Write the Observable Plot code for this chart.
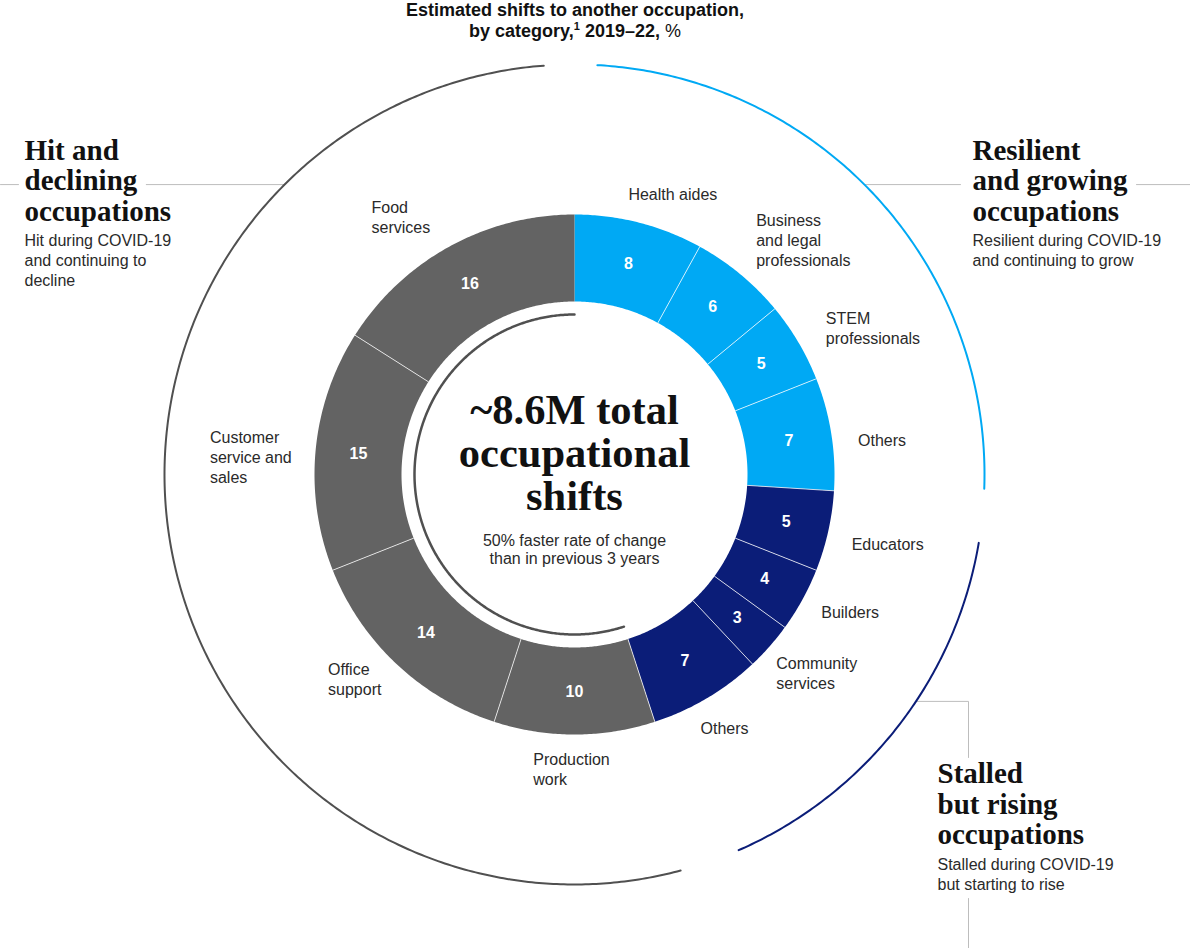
<!DOCTYPE html>
<html>
<head>
<meta charset="utf-8">
<script src="https://cdn.jsdelivr.net/npm/d3@7"></script>
<script src="https://cdn.jsdelivr.net/npm/@observablehq/plot@0.6"></script>
<style>
  html, body { margin: 0; padding: 0; background: #fff; }
  #title {
    font-family: "Liberation Sans", Arial, sans-serif;
    font-weight: bold; font-size: 18px; line-height: 21px;
    text-align: center; color: #111; width: 1150px; height: 42px;
  }
  #title sup { font-size: 11px; position: relative; top: -7px; vertical-align: baseline; line-height: 0; }
  #title .reg { font-weight: normal; }
  #chart svg { display: block; }
</style>
</head>
<body>
<div id="title">Estimated shifts to another occupation,<br>by category,<sup>1</sup> 2019–22, <span class="reg">%</span></div>
<div id="chart"></div>
<script>
// ---------------- DATA ----------------
const occupations = [
  "Health aides", "Business\nand legal\nprofessionals", "STEM\nprofessionals", "Others",
  "Educators", "Builders", "Community\nservices", "Others",
  "Production\nwork", "Office\nsupport", "Customer\nservice and\nsales", "Food\nservices"
];
const shares = [8, 6, 5, 7, 5, 4, 3, 7, 10, 14, 15, 16];
const groupOf = [0, 0, 0, 0, 1, 1, 1, 1, 2, 2, 2, 2];
const groupTitles = [
  "Resilient\nand growing\noccupations",
  "Stalled\nbut rising\noccupations",
  "Hit and\ndeclining\noccupations"
];
const groupNotes = [
  "Resilient during COVID-19\nand continuing to grow",
  "Stalled during COVID-19\nbut starting to rise",
  "Hit during COVID-19\nand continuing to\ndecline"
];
const centerTitle = "~8.6M total\noccupational\nshifts";
const centerNote = "50% faster rate of change\nthan in previous 3 years";

// ---------------- STYLE / LAYOUT ----------------
const groupFill = ["#00A9F4", "#0B1D78", "#636363"];
const groupArc = ["#00A9F4", "#0B1D78", "#505050"];
const groupArcPad = [[3.2, 1.6], [6, 5.6], [3, 4.3]]; // degrees trimmed at start/end of each outer arc
const labelNudge = [[-17, -5], [0, -15], [6, -2], [2, 10], [-1, 7], [-3, 0], [-12, 10], [-19, 8], [-3, 9], [2, -4], [1, 9], [-7, -8]];
const SANS = "'Liberation Sans', Arial, sans-serif";
const SERIF = "'Liberation Serif', 'DejaVu Serif', serif";
const W = 1190, H = 906, CX = 574, CY = 432;
const R_OUT = 260, R_IN = 173, R_VAL = 217, R_LABEL = 285, R_RING = 410, R_INNER = 160;
const LABEL_FS = 16, LABEL_LH = 20, TITLE_FS = 29, TITLE_LH = 30.5;

const rad = a => a * Math.PI / 180;
const polar = (r, a) => ({x: r * Math.sin(rad(a)), y: -r * Math.cos(rad(a))});
const arc = (r, a0, a1, step = 0.5) => {
  const n = Math.max(2, Math.ceil(Math.abs(a1 - a0) / step));
  return d3.range(n + 1).map(k => polar(r, a0 + (a1 - a0) * k / n));
};
const ctx = document.createElement("canvas").getContext("2d");
const measure = (t, font) => { ctx.font = font; return ctx.measureText(t).width; };

// segments
const total = d3.sum(shares);
let acc = 0;
const segs = shares.map((v, i) => {
  const a0 = acc / total * 360; acc += v; const a1 = acc / total * 360;
  return {i, name: occupations[i], value: v, group: groupOf[i], a0, a1, mid: (a0 + a1) / 2};
});
const wedgePts = segs.flatMap(s =>
  [...arc(R_OUT, s.a0, s.a1), ...arc(R_IN, s.a1, s.a0)].map(p => ({...p, id: s.i, color: groupFill[s.group]}))
);
const seps = segs.filter(s => s.a0 > 0).map(s => {
  const p = polar(R_IN, s.a0), q = polar(R_OUT, s.a0);
  return {x1: p.x, y1: p.y, x2: q.x, y2: q.y};
});
const valueRows = segs.map(s => ({...polar(R_VAL, s.mid), text: String(s.value)}));
const labelRows = segs.map(s => {
  const p = polar(R_LABEL, s.mid);
  const sn = Math.sin(rad(s.mid));
  const w = d3.max(s.name.split("\n"), l => measure(l, `${LABEL_FS}px ${SANS}`));
  const f = Math.abs(sn) < 0.2 ? 0.5 : (sn > 0 ? 0 : 1);
  const [dx, dy] = labelNudge[s.i];
  return {x: p.x - f * w + dx, y: p.y + dy, text: s.name};
});

// group arcs
const spans = groupTitles.map((g, k) => {
  const ss = segs.filter(s => s.group === k);
  return {k, a0: d3.min(ss, s => s.a0), a1: d3.max(ss, s => s.a1)};
});
const ringPts = spans.flatMap(g => arc(R_RING, g.a0 + groupArcPad[g.k][0], g.a1 - groupArcPad[g.k][1])
  .map(p => ({...p, k: g.k, color: groupArc[g.k]})));
const innerPts = arc(R_INNER, spans[2].a0, spans[2].a1);

// annotations
const titleFont = `bold ${TITLE_FS}px ${SERIF}`;
const blockCenter = (firstY, text, lh) => firstY + (text.split("\n").length - 1) / 2 * lh;
const ringRes = polar(R_RING, 45), ringHit = polar(R_RING, 315), ringSta = polar(R_RING, 123.6);
const ann = [
  {k: 0, x: 398, first: ringRes.y - TITLE_LH - 4},
  {k: 1, x: 363, first: 299},
  {k: 2, x: -550, first: ringHit.y - TITLE_LH - 4}
].map(a => {
  const nT = groupTitles[a.k].split("\n").length;
  const subFirst = a.first + (nT - 1) * TITLE_LH + 29;
  const nS = groupNotes[a.k].split("\n").length;
  return {...a, nT, subFirst, subLast: subFirst + (nS - 1) * LABEL_LH,
    tY: blockCenter(a.first, groupTitles[a.k], TITLE_LH),
    sY: blockCenter(subFirst, groupNotes[a.k], LABEL_LH),
    title: groupTitles[a.k], note: groupNotes[a.k]};
});
const A0 = ann[0], A1 = ann[1], A2 = ann[2];
const midLine = a => a.title.split("\n")[1];
const connectors = [
  // hit
  {id: 0, x: -CX, y: ringHit.y}, {id: 0, x: A2.x - 6, y: ringHit.y},
  {id: 1, x: A2.x + measure(midLine(A2), titleFont) + 9, y: ringHit.y}, {id: 1, x: ringHit.x, y: ringHit.y},
  // resilient
  {id: 2, x: ringRes.x, y: ringRes.y}, {id: 2, x: A0.x - 12, y: ringRes.y},
  {id: 3, x: A0.x + measure(midLine(A0), titleFont) + 9, y: ringRes.y}, {id: 3, x: W - CX, y: ringRes.y},
  // stalled
  {id: 4, x: ringSta.x, y: ringSta.y}, {id: 4, x: A1.x + 31, y: ringSta.y}, {id: 4, x: A1.x + 31, y: A1.first - 16},
  {id: 5, x: A1.x + 31, y: A1.subLast + 15}, {id: 5, x: A1.x + 31, y: H - CY}
];

const chart = Plot.plot({
  width: W, height: H,
  marginTop: 0, marginRight: 0, marginBottom: 0, marginLeft: 0,
  x: {domain: [-CX, W - CX], range: [0, W], axis: null},
  y: {domain: [-CY, H - CY], range: [0, H], axis: null},
  color: {type: "identity"},
  style: {fontFamily: SANS, background: "#fff", overflow: "visible"},
  marks: [
    Plot.line(connectors, {x: "x", y: "y", z: "id", stroke: "#bdbdbd", strokeWidth: 1}),
    Plot.line(wedgePts, {x: "x", y: "y", z: "id", fill: "color", stroke: null, curve: "linear-closed"}),
    Plot.link(seps, {x1: "x1", y1: "y1", x2: "x2", y2: "y2", stroke: "#fff", strokeOpacity: 0.75, strokeWidth: 1}),
    Plot.line(ringPts, {x: "x", y: "y", z: "k", stroke: "color", strokeWidth: 2}),
    Plot.line(innerPts, {x: "x", y: "y", stroke: "#505050", strokeWidth: 2.5}),
    Plot.text(valueRows, {x: "x", y: "y", text: "text", fill: "#fff", fontWeight: "bold", fontSize: 16}),
    Plot.text(labelRows, {x: "x", y: "y", text: "text", textAnchor: "start", lineAnchor: "middle",
      fontSize: LABEL_FS, lineHeight: LABEL_LH / LABEL_FS, fill: "#2a2a2a"}),
    Plot.text([centerTitle], {x: () => 0, y: () => 0, text: d => d, dy: -21, fontFamily: SERIF, fontWeight: "bold",
      fontSize: 42.5, lineHeight: 43 / 42.5, fill: "#111"}),
    Plot.text([centerNote], {x: () => 0, y: () => 0, text: d => d, dy: 75, fontSize: 16,
      lineHeight: 18 / 16, fill: "#2a2a2a"}),
    Plot.text(ann, {x: "x", y: "tY", text: "title", textAnchor: "start", fontFamily: SERIF, fontWeight: "bold",
      fontSize: TITLE_FS, lineHeight: TITLE_LH / TITLE_FS, fill: "#111"}),
    Plot.text(ann, {x: "x", y: "sY", text: "note", textAnchor: "start", fontSize: LABEL_FS,
      lineHeight: LABEL_LH / LABEL_FS, fill: "#2a2a2a"})
  ]
});
document.getElementById("chart").appendChild(chart);
</script>
</body>
</html>
